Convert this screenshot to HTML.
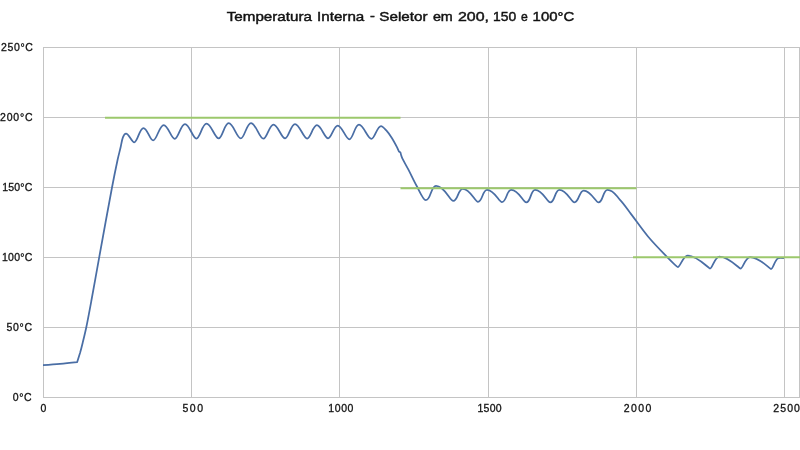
<!DOCTYPE html>
<html><head><meta charset="utf-8"><style>
html,body{margin:0;padding:0;background:#fff;width:800px;height:450px;overflow:hidden}
svg{display:block}
text{font-family:"Liberation Sans",sans-serif;fill:#121212;stroke:#121212;stroke-width:0.3px}
.t{will-change:transform}
.ti{stroke-width:0.45px}
</style></head><body>
<svg class="t" width="800" height="450" viewBox="0 0 800 450">
<rect width="800" height="450" fill="#fff"/>
<g stroke="#c4c4c4" stroke-width="1" shape-rendering="crispEdges">
<line x1="43" y1="47.5" x2="800" y2="47.5"/>
<line x1="43" y1="117.5" x2="800" y2="117.5"/>
<line x1="43" y1="187.5" x2="800" y2="187.5"/>
<line x1="43" y1="257.5" x2="800" y2="257.5"/>
<line x1="43" y1="327.5" x2="800" y2="327.5"/>
<line x1="43" y1="397.5" x2="800" y2="397.5"/>
<line x1="43.5" y1="47" x2="43.5" y2="398"/>
<line x1="191.5" y1="47" x2="191.5" y2="398"/>
<line x1="339.5" y1="47" x2="339.5" y2="398"/>
<line x1="488.5" y1="47" x2="488.5" y2="398"/>
<line x1="636.5" y1="47" x2="636.5" y2="398"/>
<line x1="784.5" y1="47" x2="784.5" y2="398"/>
<line x1="799.5" y1="47" x2="799.5" y2="398"/>
</g>
<text x="226.75" y="20.80" font-size="13.5" textLength="85.17" lengthAdjust="spacingAndGlyphs" class="ti">Temperatura</text>
<text x="317.00" y="20.80" font-size="13.5" textLength="47.29" lengthAdjust="spacingAndGlyphs" class="ti">Interna</text>
<text x="370.10" y="19.90" font-size="13.5" textLength="4.90" lengthAdjust="spacingAndGlyphs" class="ti">-</text>
<text x="379.25" y="20.80" font-size="13.5" textLength="48.29" lengthAdjust="spacingAndGlyphs" class="ti">Seletor</text>
<text x="432.90" y="20.80" font-size="13.5" textLength="19.91" lengthAdjust="spacingAndGlyphs" class="ti">em</text>
<text x="458.00" y="20.80" font-size="13.5" textLength="31.03" lengthAdjust="spacingAndGlyphs" class="ti">200,</text>
<text x="493.10" y="20.80" font-size="13.5" textLength="23.14" lengthAdjust="spacingAndGlyphs" class="ti">150</text>
<text x="521.10" y="20.80" font-size="13.5" textLength="6.80" lengthAdjust="spacingAndGlyphs" class="ti">e</text>
<text x="532.60" y="20.80" font-size="13.5" textLength="41.62" lengthAdjust="spacingAndGlyphs" class="ti">100°C</text>
<text x="1.00" y="50.60" font-size="10.5" textLength="31.89" lengthAdjust="spacing">250°C</text>
<text x="0.10" y="120.60" font-size="10.5" textLength="32.42" lengthAdjust="spacing">200°C</text>
<text x="2.30" y="190.50" font-size="10.5" textLength="29.98" lengthAdjust="spacing">150°C</text>
<text x="2.00" y="260.50" font-size="10.5" textLength="30.29" lengthAdjust="spacing">100°C</text>
<text x="6.40" y="330.50" font-size="10.5" textLength="25.68" lengthAdjust="spacing">50°C</text>
<text x="12.80" y="400.50" font-size="10.5" textLength="18.81" lengthAdjust="spacing">0°C</text>
<text x="40.50" y="411.80" font-size="10.5" textLength="6.56" lengthAdjust="spacing">0</text>
<text x="182.40" y="411.80" font-size="10.5" textLength="20.67" lengthAdjust="spacing">500</text>
<text x="328.25" y="411.80" font-size="10.5" textLength="25.20" lengthAdjust="spacing">1000</text>
<text x="477.50" y="411.80" font-size="10.5" textLength="24.17" lengthAdjust="spacing">1500</text>
<text x="623.75" y="411.80" font-size="10.5" textLength="27.68" lengthAdjust="spacing">2000</text>
<text x="773.30" y="411.80" font-size="10.5" textLength="26.64" lengthAdjust="spacing">2500</text>

<path d="M43.00,365.10 C43.00,365.10 54.40,364.29 60.00,363.80 C65.68,363.30 77.20,362.10 77.20,362.10 C77.20,362.10 80.10,352.80 80.10,352.80 C81.04,349.49 81.89,346.04 82.70,342.70 C83.94,337.60 85.24,332.34 86.30,327.20 C88.14,318.25 89.84,308.99 91.50,300.00 C94.10,285.92 96.63,271.39 99.20,257.30 C103.40,234.26 107.66,210.51 112.00,187.50 C113.73,178.30 115.64,168.85 117.60,159.70 C118.45,155.75 119.65,151.37 120.50,147.80 C121.24,144.68 121.74,140.39 122.90,137.40 C123.34,136.26 124.82,133.60 126.00,133.60 C128.87,133.60 131.81,142.30 134.20,142.30 C137.59,142.30 139.43,128.10 143.50,128.10 C147.24,128.10 149.98,140.40 153.10,140.40 C156.84,140.40 159.26,125.00 163.75,125.00 C167.99,125.00 171.22,138.80 174.75,138.80 C178.35,138.80 180.68,124.00 185.00,124.00 C189.43,124.00 192.71,138.50 196.40,138.50 C200.00,138.50 202.18,123.60 206.50,123.60 C211.10,123.60 214.86,138.40 218.70,138.40 C222.34,138.40 224.33,123.20 228.70,123.20 C233.36,123.20 236.91,138.40 240.80,138.40 C244.49,138.40 246.57,123.00 251.00,123.00 C255.80,123.00 259.40,138.70 263.40,138.70 C266.87,138.70 269.34,124.60 273.50,124.60 C277.83,124.60 281.49,138.40 285.10,138.40 C288.59,138.40 290.81,124.00 295.00,124.00 C299.55,124.00 303.41,138.50 307.20,138.50 C310.49,138.50 312.95,125.20 316.90,125.20 C321.04,125.20 324.65,138.30 328.10,138.30 C331.31,138.30 333.90,125.50 337.75,125.50 C342.08,125.50 345.79,139.30 349.40,139.30 C352.89,139.30 354.81,124.70 359.00,124.70 C363.52,124.70 367.63,138.90 371.40,138.90 C374.62,138.90 377.14,126.00 381.00,126.00 C382.59,126.00 384.64,128.58 386.10,130.20 C388.19,132.51 390.02,135.17 391.70,137.80 C393.69,140.93 395.47,144.32 397.20,147.60 C397.20,147.60 399.00,151.60 399.00,151.60 L400.50,152.60 L401.20,155.40 C401.20,155.40 402.20,158.20 402.20,158.20 C404.10,161.95 406.35,165.67 408.30,169.40 C411.14,174.84 413.68,180.65 416.70,186.00 C419.43,190.83 423.18,200.20 425.70,200.20 C431.01,200.20 430.69,185.80 436.00,185.80 C444.73,185.80 449.86,200.90 453.30,200.90 C457.90,200.90 458.10,188.80 462.70,188.80 C470.33,188.80 474.99,201.80 478.00,201.80 C482.50,201.80 482.50,189.80 487.00,189.80 C494.34,189.80 499.00,202.10 501.90,202.10 C506.54,202.10 506.61,189.80 511.25,189.80 C518.69,189.80 523.31,202.40 526.25,202.40 C530.87,202.40 530.48,189.80 535.10,189.80 C542.59,189.80 547.29,202.40 550.25,202.40 C554.92,202.40 554.73,189.80 559.40,189.80 C566.84,189.80 571.46,202.40 574.40,202.40 C578.94,202.40 579.21,190.50 583.75,190.50 C590.95,190.50 595.66,202.40 598.50,202.40 C603.15,202.40 602.85,189.80 607.50,189.80 C613.58,189.80 616.33,196.00 620.00,199.80 C624.24,204.18 627.60,209.56 631.30,214.40 C636.84,221.67 642.13,229.50 648.00,236.50 C653.82,243.44 660.38,250.11 666.70,256.60 C670.22,260.21 677.04,267.10 677.80,267.10 C680.07,267.10 683.07,255.60 687.60,255.60 C697.42,255.60 708.71,268.50 710.00,268.50 C712.27,268.50 714.85,256.60 719.40,256.60 C728.62,256.60 739.29,268.60 740.50,268.60 C742.75,268.60 745.50,257.00 750.00,257.00 C759.19,257.00 769.79,269.00 771.00,269.00 C772.84,269.00 774.67,260.95 777.50,258.60 C779.00,257.35 784.00,258.20 784.00,258.20" fill="none" stroke="#4a6ea5" stroke-width="1.75" stroke-linejoin="round" stroke-linecap="butt"/>
<g stroke="#9cc86c" stroke-width="2" fill="none">
<line x1="105" y1="117.7" x2="400.5" y2="117.7"/>
<line x1="400.5" y1="188.2" x2="636.5" y2="188.2"/>
<line x1="633" y1="257.2" x2="800" y2="257.2"/>
</g>
</svg>
</body></html>
